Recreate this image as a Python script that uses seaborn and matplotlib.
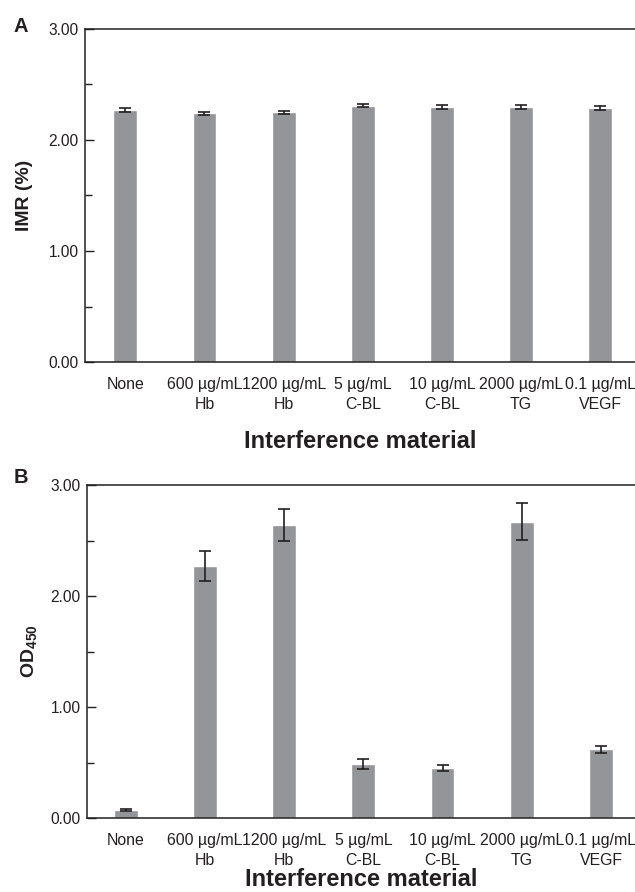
import numpy as np
import pandas as pd
import seaborn as sns
import matplotlib.pyplot as plt
from matplotlib.ticker import MultipleLocator

categories = ["None", "600 µg/mL\nHb", "1200 µg/mL\nHb", "5 µg/mL\nC-BL",
              "10 µg/mL\nC-BL", "2000 µg/mL\nTG", "0.1 µg/mL\nVEGF"]
imr_mean = [2.27, 2.24, 2.25, 2.31, 2.30, 2.30, 2.29]
imr_err = [0.018, 0.015, 0.015, 0.013, 0.018, 0.018, 0.018]
od_mean = [0.07, 2.27, 2.64, 0.49, 0.45, 2.67, 0.62]
od_err = [0.01, 0.135, 0.14, 0.045, 0.024, 0.165, 0.032]

sns.set_style("ticks")
plt.rcParams["font.family"] = ["Liberation Sans", "DejaVu Sans"]
plt.rcParams["mathtext.fontset"] = "custom"
plt.rcParams["mathtext.rm"] = "Liberation Sans"
plt.rcParams["mathtext.bf"] = "Liberation Sans:bold"

bar_color = "#939598"
ink = "#231f20"
fig = plt.figure(figsize=(6.35, 8.92), dpi=100)
axA = fig.add_axes([85 / 635, 1 - 362 / 892, 1 - 85 / 635, 333 / 892])
axB = fig.add_axes([87 / 635, 1 - 818 / 892, 1 - 87 / 635, 333 / 892])


def panel(ax, means, errs, ylabel, xlim):
    df = pd.DataFrame({"cat": categories, "val": means})
    sns.barplot(data=df, x="cat", y="val", color=bar_color, saturation=1,
                width=0.3, errorbar=None, ax=ax)
    ax.errorbar(np.arange(len(categories)), means, yerr=errs, fmt="none",
                ecolor=ink, elinewidth=1.2, capsize=4.5, capthick=1.2)
    ax.set_ylim(0, 3)
    ax.set_xlim(*xlim)
    ax.yaxis.set_minor_locator(MultipleLocator(0.5))
    ax.set_yticks([0, 1, 2, 3], ["0.00", "1.00", "2.00", "3.00"])
    ax.tick_params(axis="y", which="major", direction="in", length=6.5,
                   width=1, labelsize=11.2, pad=4.5, colors=ink)
    ax.tick_params(axis="y", which="minor", direction="in", length=4.8,
                   width=1, colors=ink)
    ax.tick_params(axis="x", length=0, labelsize=11.4, pad=11, colors=ink)
    for t in ax.get_xticklabels():
        t.set_horizontalalignment("center")
        t.set_linespacing(1.4)
    for s in ["left", "top", "bottom"]:
        ax.spines[s].set_visible(True)
        ax.spines[s].set_color(ink)
        ax.spines[s].set_linewidth(1.1)
    ax.spines["right"].set_visible(False)
    ax.set_ylabel(ylabel, fontsize=14, fontweight="bold", color=ink)
    ax.set_xlabel("Interference material", fontsize=17, fontweight="bold",
                  color=ink)


panel(axA, imr_mean, imr_err, "IMR (%)", (-0.51, 6.44))
axA.yaxis.set_label_coords(-0.094, 0.5)
axA.xaxis.set_label_coords(0.5, -0.205)
panel(axB, od_mean, od_err, r"$\mathbf{OD_{450}}$", (-0.49, 6.43))
axB.yaxis.set_label_coords(-0.088, 0.5)
axB.xaxis.set_label_coords(0.5, -0.15)

fig.text(21 / 635, 1 - 26 / 892, "A", fontsize=14.5, fontweight="bold",
         ha="center", va="center", color=ink)
fig.text(21 / 635, 1 - 477 / 892, "B", fontsize=14.5, fontweight="bold",
         ha="center", va="center", color=ink)

fig.savefig("out.png", dpi=100)
